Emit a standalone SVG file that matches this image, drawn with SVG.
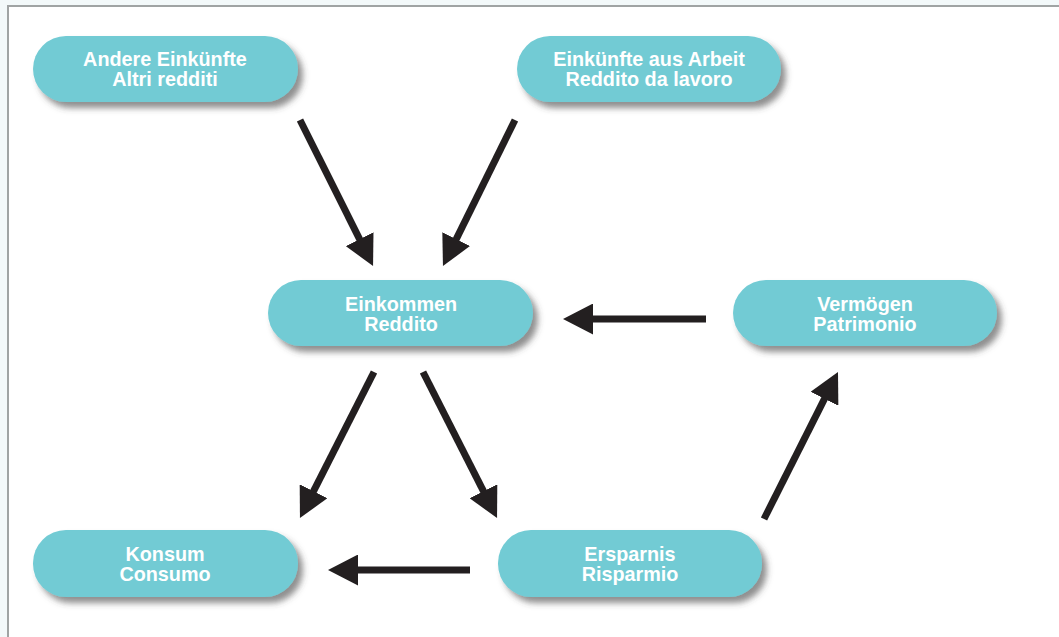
<svg xmlns="http://www.w3.org/2000/svg" width="1059" height="637" viewBox="0 0 1059 637">
<style>
.node rect{fill:#72cbd4;filter:url(#sh)}
.node text{font-family:"Liberation Sans",Arial,sans-serif;font-weight:bold;font-size:19.8px;fill:#ffffff;text-anchor:middle}
.conn line{stroke:#231f20;stroke-width:7;marker-end:url(#ah)}
</style>
<defs>
<filter id="sh" x="-10%" y="-20%" width="130%" height="160%">
<feDropShadow dx="5" dy="6" stdDeviation="3" flood-color="#444" flood-opacity="0.6"/>
</filter>
<marker id="ah" markerUnits="userSpaceOnUse" markerWidth="30" markerHeight="31" viewBox="0 0 30 31" refX="10" refY="15.5" orient="auto">
<path d="M0,0 L30,15.5 L0,31 z" fill="#231f20"/>
</marker>
</defs>
<rect x="0" y="0" width="1059" height="637" fill="#f3f9fa"/>
<rect x="8" y="6" width="1060" height="640" fill="#ffffff" stroke="#a0a4a4" stroke-width="2"/>
<g class="conn">
<line x1="300" y1="120" x2="364.1" y2="248.1"/>
<line x1="515" y1="120" x2="451.8" y2="248.1"/>
<line x1="706" y1="319" x2="583" y2="319"/>
<line x1="374" y1="372" x2="309" y2="500.2"/>
<line x1="423" y1="372" x2="488" y2="500.2"/>
<line x1="470" y1="570" x2="348" y2="570"/>
<line x1="764" y1="519" x2="829" y2="389.9"/>
</g>
<g id="andere" class="node"><rect x="33" y="36" width="265" height="66" rx="33"/><text x="165" y="66">Andere Einkünfte</text><text x="165" y="86">Altri redditi</text></g>
<g id="arbeit" class="node"><rect x="517" y="36" width="264" height="66" rx="33"/><text x="649" y="66">Einkünfte aus Arbeit</text><text x="649" y="86">Reddito da lavoro</text></g>
<g id="einkommen" class="node"><rect x="268" y="280" width="265" height="66" rx="33"/><text x="401" y="311">Einkommen</text><text x="401" y="331">Reddito</text></g>
<g id="vermoegen" class="node"><rect x="733" y="280" width="264" height="66" rx="33"/><text x="865" y="311">Vermögen</text><text x="865" y="331">Patrimonio</text></g>
<g id="konsum" class="node"><rect x="33" y="530" width="265" height="67" rx="33"/><text x="165" y="561">Konsum</text><text x="165" y="581">Consumo</text></g>
<g id="ersparnis" class="node"><rect x="498" y="530" width="264" height="67" rx="33"/><text x="630" y="561">Ersparnis</text><text x="630" y="581">Risparmio</text></g>
</svg>
